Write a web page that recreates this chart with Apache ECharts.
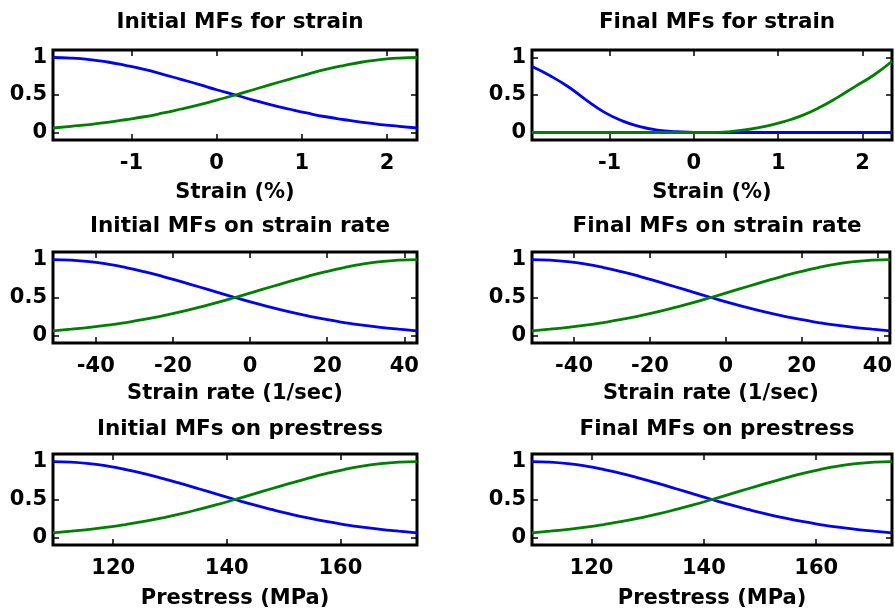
<!DOCTYPE html>
<html><head><meta charset="utf-8">
<script src="https://cdn.jsdelivr.net/npm/echarts@6/dist/echarts.min.js"></script>
<style>html,body{margin:0;padding:0;background:#fff}#c{width:895px;height:612px}</style>
</head><body><div id="c"></div>
<script>
// ---- data ----
const panelTitles = ['Initial MFs for strain','Final MFs for strain','Initial MFs on strain rate','Final MFs on strain rate','Initial MFs on prestress','Final MFs on prestress'];
const xAxisNames = ['Strain (%)','Strain (%)','Strain rate (1/sec)','Strain rate (1/sec)','Prestress (MPa)','Prestress (MPa)'];
const yTicks = [0, 0.5, 1];
const strainTicks = [-1, 0, 1, 2];
const rateTicks = [-40, -20, 0, 20, 40];
const presTicks = [120, 140, 160];

const strainX = [-1.92,-1.71,-1.49,-1.28,-1.07,-0.85,-0.64,-0.43,-0.21,0.00,0.22,0.43,0.64,0.86,1.07,1.28,1.50,1.71,1.92,2.14,2.35];
const strainInitLow  = [1,0.993,0.973,0.94,0.895,0.841,0.779,0.712,0.642,0.57,0.5,0.432,0.369,0.31,0.257,0.21,0.17,0.135,0.106,0.082,0.06];
const strainInitHigh = [0.06,0.082,0.106,0.135,0.17,0.21,0.257,0.31,0.369,0.432,0.5,0.57,0.642,0.712,0.779,0.841,0.895,0.94,0.973,0.993,1];
const strainFinalLow  = [0.88,0.76,0.61,0.435,0.275,0.155,0.078,0.032,0.011,0.003,0,0,0,0,0,0,0,0,0,0,0];
const strainFinalHigh = [0,0,0,0,0,0,0,0,0,0,0,0.012,0.04,0.084,0.146,0.225,0.339,0.472,0.618,0.77,0.95];

const rateX = [-51.1,-46.38,-41.66,-36.94,-32.22,-27.5,-22.78,-18.06,-13.34,-8.62,-3.9,0.82,5.54,10.26,14.98,19.7,24.42,29.14,33.86,38.58,43.3];
const rateInitLow  = [1,0.993,0.973,0.94,0.895,0.841,0.779,0.712,0.642,0.57,0.5,0.432,0.369,0.31,0.257,0.21,0.17,0.135,0.106,0.082,0.06];
const rateInitHigh = [0.06,0.082,0.106,0.135,0.17,0.21,0.257,0.31,0.369,0.432,0.5,0.57,0.642,0.712,0.779,0.841,0.895,0.94,0.973,0.993,1];
const rateFinalLow  = [1,0.993,0.973,0.94,0.895,0.841,0.779,0.712,0.642,0.57,0.5,0.432,0.369,0.31,0.257,0.21,0.17,0.135,0.106,0.082,0.06];
const rateFinalHigh = [0.06,0.082,0.106,0.135,0.17,0.21,0.257,0.31,0.369,0.432,0.5,0.57,0.642,0.712,0.779,0.841,0.895,0.94,0.973,0.993,1];

const presX = [109.4,112.61,115.81,119.02,122.22,125.43,128.63,131.84,135.04,138.25,141.45,144.66,147.86,151.07,154.27,157.48,160.68,163.89,167.09,170.3,173.5];
const presInitLow  = [1,0.993,0.973,0.94,0.895,0.841,0.779,0.712,0.642,0.57,0.5,0.432,0.369,0.31,0.257,0.21,0.17,0.135,0.106,0.082,0.06];
const presInitHigh = [0.06,0.082,0.106,0.135,0.17,0.21,0.257,0.31,0.369,0.432,0.5,0.57,0.642,0.712,0.779,0.841,0.895,0.94,0.973,0.993,1];
const presFinalLow  = [1,0.993,0.973,0.94,0.895,0.841,0.779,0.712,0.642,0.57,0.5,0.432,0.369,0.31,0.257,0.21,0.17,0.135,0.106,0.082,0.06];
const presFinalHigh = [0.06,0.082,0.106,0.135,0.17,0.21,0.257,0.31,0.369,0.432,0.5,0.57,0.642,0.712,0.779,0.841,0.895,0.94,0.973,0.993,1];

// ---- layout ----
const panels = [
  {x: strainX, low: strainInitLow,  high: strainInitHigh,  ticks: strainTicks, range: [-1.92, 2.35]},
  {x: strainX, low: strainFinalLow, high: strainFinalHigh, ticks: strainTicks, range: [-1.92, 2.35]},
  {x: rateX,   low: rateInitLow,    high: rateInitHigh,    ticks: rateTicks,   range: [-51.1, 43.3]},
  {x: rateX,   low: rateFinalLow,   high: rateFinalHigh,   ticks: rateTicks,   range: [-51.1, 43.3]},
  {x: presX,   low: presInitLow,    high: presInitHigh,    ticks: presTicks,   range: [109.4, 173.5]},
  {x: presX,   low: presFinalLow,   high: presFinalHigh,   ticks: presTicks,   range: [109.4, 173.5]}
];
const colLeft = [53, 532], colWidth = [364, 360];
const rowTop = [50, 252, 454], rowHeight = [90, 91, 91];
const titleTop = [6, 210, 413];
const nameGaps = [42, 40, 43];
const FONT = 'DejaVu Sans';
const BLUE = '#0000ff', GREEN = '#008000';

const grid = [], xAxis = [], yAxis = [], series = [], title = [];
panels.forEach((p, i) => {
  const r = Math.floor(i / 2), c = i % 2;
  grid.push({left: colLeft[c], top: rowTop[r], width: colWidth[c], height: rowHeight[r],
    show: true, borderColor: '#000', borderWidth: 3, backgroundColor: 'transparent', containLabel: false});
  title.push({text: panelTitles[i], left: colLeft[c] + colWidth[c] / 2, top: titleTop[r], textAlign: 'center',
    textStyle: {fontFamily: FONT, fontWeight: 'bold', fontSize: 21.5, color: '#000'}});
  const tickStyle = {show: true, inside: true, length: 6, lineStyle: {color: '#000', width: 1.5}};
  const noLine = {show: false, onZero: false};
  xAxis.push({type: 'value', gridIndex: i, position: 'bottom', min: p.range[0], max: p.range[1],
    name: xAxisNames[i], nameLocation: 'middle', nameGap: nameGaps[r],
    nameTextStyle: {fontFamily: FONT, fontWeight: 'bold', fontSize: 21, color: '#000'},
    axisLine: noLine, splitLine: {show: false},
    axisTick: Object.assign({customValues: p.ticks}, tickStyle),
    axisLabel: {customValues: p.ticks, margin: 13, fontFamily: FONT, fontWeight: 'bold', fontSize: 21, color: '#000'}});
  xAxis.push({type: 'value', gridIndex: i, position: 'top', min: p.range[0], max: p.range[1],
    axisLine: noLine, splitLine: {show: false}, axisLabel: {show: false},
    axisTick: Object.assign({customValues: p.ticks}, tickStyle)});
  yAxis.push({type: 'value', gridIndex: i, position: 'left', min: -0.1, max: 1.1,
    axisLine: noLine, splitLine: {show: false},
    axisTick: Object.assign({customValues: yTicks}, tickStyle),
    axisLabel: {customValues: yTicks, margin: 6, fontFamily: FONT, fontWeight: 'bold', fontSize: 21, color: '#000'}});
  yAxis.push({type: 'value', gridIndex: i, position: 'right', min: -0.1, max: 1.1,
    axisLine: noLine, splitLine: {show: false}, axisLabel: {show: false},
    axisTick: Object.assign({customValues: yTicks}, tickStyle)});
  const mk = (vals, color) => ({type: 'line', xAxisIndex: 2 * i, yAxisIndex: 2 * i,
    data: p.x.map((xv, k) => [xv, vals[k]]), showSymbol: false, symbol: 'none',
    smooth: true,
    lineStyle: {color: color, width: 2.8}, silent: true});
  series.push(mk(p.low, BLUE));
  series.push(mk(p.high, GREEN));
});

const chart = echarts.init(document.getElementById('c'), null, {renderer: 'canvas'});
chart.setOption({animation: false, backgroundColor: '#fff', title, grid, xAxis, yAxis, series});
</script>
</body></html>
